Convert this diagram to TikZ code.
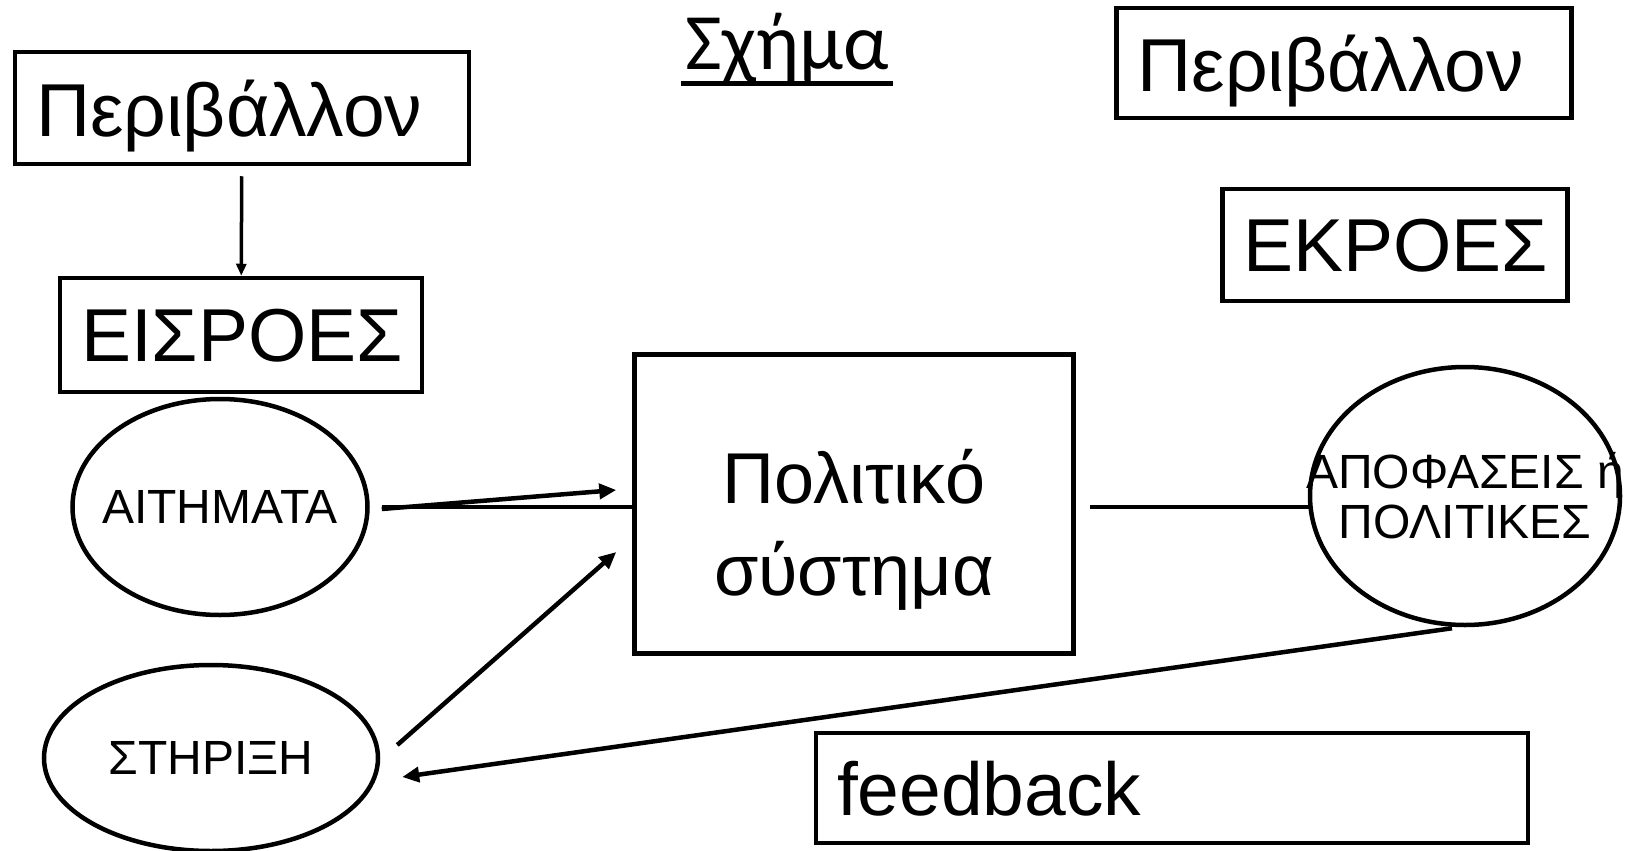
\documentclass[tikz,border=0pt]{standalone}
\usepackage{fontspec}
\setmainfont{Liberation Sans}
\newfontfamily\titlefont{Carlito}
\usetikzlibrary{arrows.meta,shapes.geometric}

\newcommand{\bigtxt}{\fontsize{75}{86}\selectfont}
\newcommand{\midtxt}{\fontsize{72}{92}\selectfont}
\newcommand{\smalltxt}{\fontsize{48}{50}\selectfont}

\tikzset{
  box/.style={draw, line width=4.5pt, inner ysep=0pt, inner xsep=21pt, text depth=0pt, align=left},
  oval/.style={draw, ellipse, line width=4.5pt, inner sep=0pt},
  link/.style={line width=4.5pt},
  tip/.style={line width=4.5pt, -{Triangle[length=17pt,width=15pt]}},
}

\begin{document}
\begin{tikzpicture}[x=1pt, y=-1pt]
    % Canvas
    \useasboundingbox[fill=white] (0,0) rectangle (1628,851);

    % Title
    \node[font=\titlefont\fontsize{80}{86}\selectfont, inner sep=0pt, anchor=base] (title) at (787,70) {Σχήμα};
    \draw[line width=5pt] ([shift={(-4,14)}]title.base west) -- ([shift={(4,14)}]title.base east);

    % Boxes
    \node[box, minimum width=454, minimum height=112, text width=412, font=\bigtxt] (envL) at (242,108) {Περιβάλλον};
    \node[box, minimum width=455, minimum height=110, text width=413, font=\bigtxt] (envR) at (1344,63) {Περιβάλλον};
    \node[box, minimum width=362, minimum height=114, text width=320, font=\bigtxt] (inputs) at (241,335) {ΕΙΣΡΟΕΣ};
    \node[box, minimum width=345, minimum height=112, text width=303, font=\bigtxt] (outputs) at (1395,245) {ΕΚΡΟΕΣ};
    \node[box, minimum width=439, minimum height=299, text width=397, text depth=55pt, font=\midtxt, align=center] (polsys) at (854,504) {Πολιτικό\\σύστημα};
    \node[box, minimum width=712, minimum height=110, text width=670, font=\bigtxt] (fb) at (1172,788) {feedback};

    % Ellipses
    \node[oval, minimum width=295, minimum height=216,
          label={[name=demtxt, font=\smalltxt]center:ΑΙΤΗΜΑΤΑ}] (demands) at (220,507) {};
    \node[oval, minimum width=334, minimum height=186,
          label={[name=suptxt, font=\smalltxt]center:ΣΤΗΡΙΞΗ}] (support) at (211,758) {};
    \node[oval, minimum width=310, minimum height=258,
          label={[name=dectxt, font=\smalltxt, align=center]center:{ΑΠΟΦΑΣΕΙΣ ή\\ΠΟΛΙΤΙΚΕΣ}}] (decisions) at (1465,496) {};

    % Connectors
    \draw[line width=3.5pt, -{Triangle[length=12pt,width=10pt]}, shorten <=10pt] (envL) -- (inputs);
    \draw[link] ([shift={(12,0)}]demands.east) -- (polsys.west |- demands.east);
    \draw[tip] ([shift={(12,2)}]demands.east) -- ([shift={(-16,-14)}]polsys.west);
    \draw[tip] ([shift={(17,-13)}]support.east) -- ([shift={(-16,48)}]polsys.west);
    \draw[link] ([shift={(14,3)}]polsys.east) -- ([shift={(3,11)}]decisions.west);
    \draw[tip] ([shift={(-13,1)}]decisions.south) -- ([shift={(22,19)}]support.east);
\end{tikzpicture}
\end{document}
